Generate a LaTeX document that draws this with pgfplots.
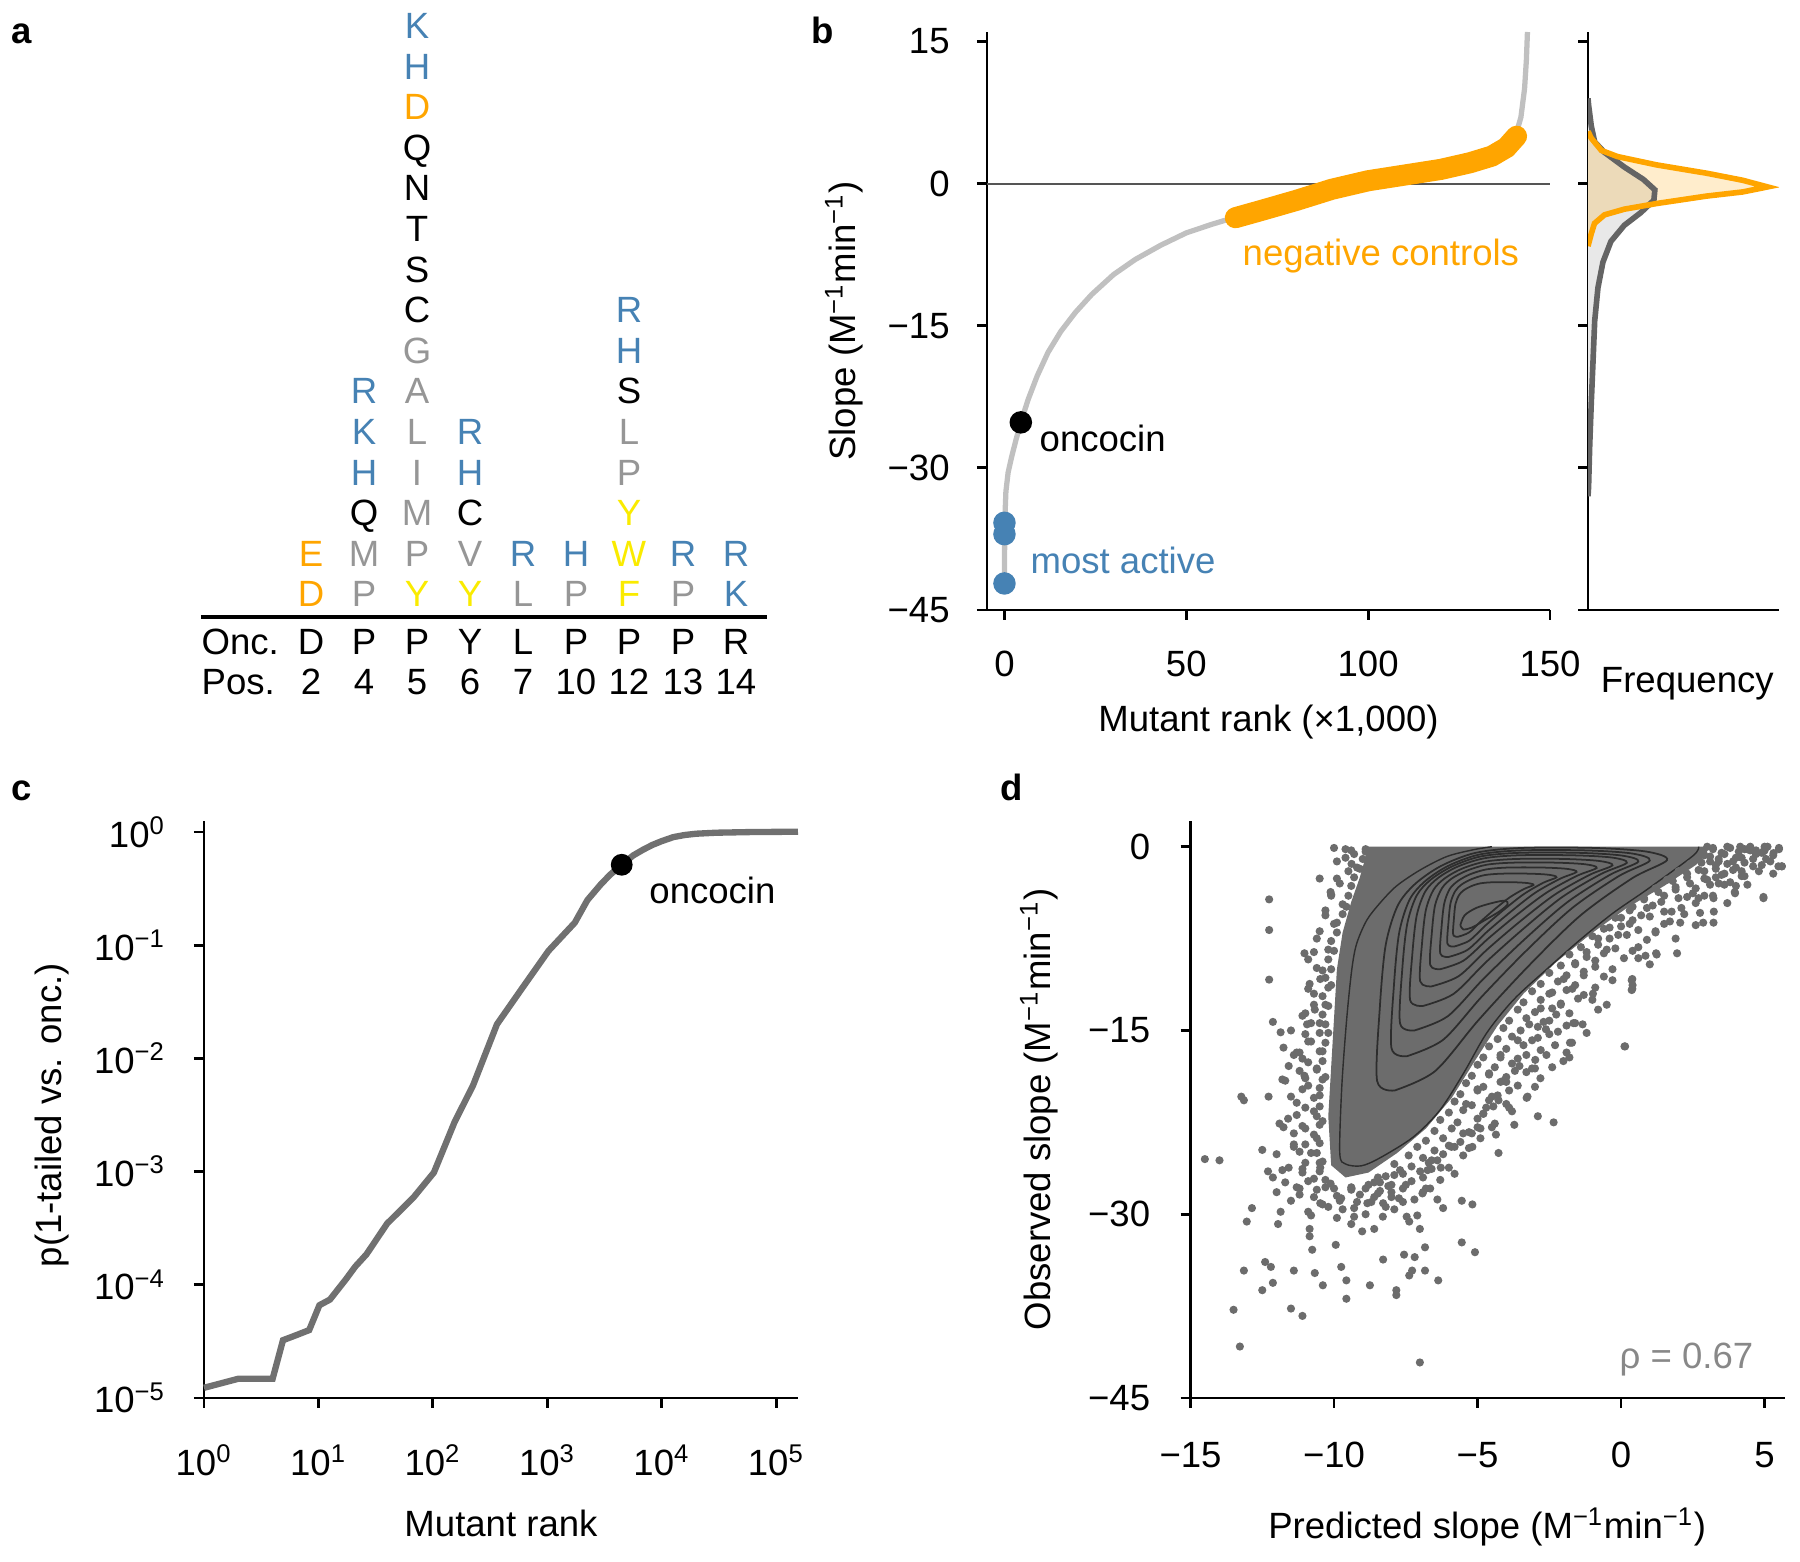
\documentclass[border=0pt]{standalone}
\usepackage{fontspec}
\setmainfont{Liberation Sans}
\usepackage{pgfplots}
\pgfplotsset{compat=1.18}
\definecolor{sblue}{RGB}{70,130,180}
\definecolor{aorange}{RGB}{255,165,0}
\definecolor{ayellow}{RGB}{250,235,0}
\definecolor{agray}{RGB}{150,150,150}
\definecolor{curvegray}{RGB}{192,192,192}
\definecolor{dgray}{RGB}{108,108,108}
\definecolor{cgray}{RGB}{112,112,112}
\definecolor{hgray}{RGB}{100,100,100}
\definecolor{zline}{RGB}{85,85,85}
\definecolor{contourc}{RGB}{45,45,45}
\definecolor{rhogray}{RGB}{136,136,136}
\pgfplotsset{
  panel/.style={
    scale only axis, anchor=south west,
    axis lines=left, axis line style={-, line width=0.8pt, black},
    every outer x axis line/.append style={-},
    every outer y axis line/.append style={-},
    tick align=outside, major tick length=0.1cm,
    every tick/.style={black, line width=0.8pt},
    xtick pos=bottom, ytick pos=left,
  }
}
\newcommand{\aL}[4]{\node[anchor=base, inner sep=0, text=#3] at (axis cs:#1,#2) {#4};}
\begin{document}
\fontsize{10.4}{12.5}\selectfont
\begin{tikzpicture}
\path[use as bounding box] (0,0) rectangle (18,15.62);
% panel letters
\node[anchor=base west, inner sep=0, font=\bfseries] at (0.103,15.184) {a};
\node[anchor=base west, inner sep=0, font=\bfseries] at (8.105,15.184) {b};
\node[anchor=base west, inner sep=0, font=\bfseries] at (0.103,7.61) {c};
\node[anchor=base west, inner sep=0, font=\bfseries] at (10.0,7.61) {d};

% ---------------- panel a ----------------
\begin{axis}[at={(0cm,8.42cm)}, anchor=south west, scale only axis,
  width=8cm, height=7.2cm, xmin=0, xmax=800, ymin=842, ymax=1562,
  hide axis, clip=false]
\addplot[black, line width=1.0pt] coordinates {(201,945) (767,945)};
\node[anchor=base west, inner sep=0] at (axis cs:201,907) {Onc.};
\node[anchor=base west, inner sep=0] at (axis cs:201,867) {Pos.};
\aL{311}{907}{black}{D}\aL{364}{907}{black}{P}\aL{417}{907}{black}{P}
\aL{470}{907}{black}{Y}\aL{523}{907}{black}{L}\aL{576}{907}{black}{P}
\aL{629}{907}{black}{P}\aL{683}{907}{black}{P}\aL{736}{907}{black}{R}
\aL{311}{867}{black}{2}\aL{364}{867}{black}{4}\aL{417}{867}{black}{5}
\aL{470}{867}{black}{6}\aL{523}{867}{black}{7}\aL{576}{867}{black}{10}
\aL{629}{867}{black}{12}\aL{683}{867}{black}{13}\aL{736}{867}{black}{14}
% pos 2
\aL{311}{955}{aorange}{D}\aL{311}{995.6}{aorange}{E}
% pos 4
\aL{364}{955}{agray}{P}\aL{364}{995.6}{agray}{M}\aL{364}{1036.2}{black}{Q}
\aL{364}{1076.8}{sblue}{H}\aL{364}{1117.4}{sblue}{K}\aL{364}{1158}{sblue}{R}
% pos 5
\aL{417}{955}{ayellow}{Y}\aL{417}{995.6}{agray}{P}\aL{417}{1036.2}{agray}{M}
\aL{417}{1076.8}{agray}{I}\aL{417}{1117.4}{agray}{L}\aL{417}{1158}{agray}{A}
\aL{417}{1198.6}{agray}{G}\aL{417}{1239.2}{black}{C}\aL{417}{1279.8}{black}{S}
\aL{417}{1320.4}{black}{T}\aL{417}{1361}{black}{N}\aL{417}{1401.6}{black}{Q}
\aL{417}{1442.2}{aorange}{D}\aL{417}{1482.8}{sblue}{H}\aL{417}{1523.4}{sblue}{K}
% pos 6
\aL{470}{955}{ayellow}{Y}\aL{470}{995.6}{agray}{V}\aL{470}{1036.2}{black}{C}
\aL{470}{1076.8}{sblue}{H}\aL{470}{1117.4}{sblue}{R}
% pos 7
\aL{523}{955}{agray}{L}\aL{523}{995.6}{sblue}{R}
% pos 10
\aL{576}{955}{agray}{P}\aL{576}{995.6}{sblue}{H}
% pos 12
\aL{629}{955}{ayellow}{F}\aL{629}{995.6}{ayellow}{W}\aL{629}{1036.2}{ayellow}{Y}
\aL{629}{1076.8}{agray}{P}\aL{629}{1117.4}{agray}{L}\aL{629}{1158}{black}{S}
\aL{629}{1198.6}{sblue}{H}\aL{629}{1239.2}{sblue}{R}
% pos 13
\aL{683}{955}{agray}{P}\aL{683}{995.6}{sblue}{R}
% pos 14
\aL{736}{955}{sblue}{K}\aL{736}{995.6}{sblue}{R}
\end{axis}

% ---------------- panel b (main) ----------------
\begin{axis}[panel, at={(9.87cm,9.52cm)}, width=5.63cm, height=5.78cm,
  xmin=-4.8, xmax=150, ymin=-45, ymax=16,
  xtick={0,50,100,150}, xticklabels={0,50,100,150},
  ytick={-45,-30,-15,0,15}, yticklabels={−45,−30,−15,0,15},
  xticklabel shift=0.18cm, yticklabel shift=0.145cm,
  xlabel={Mutant rank (×1,000)},
  ylabel={Slope (M\textsuperscript{−1}min\textsuperscript{−1})},
  xlabel style={at={(axis description cs:0.5,-0.194)}, anchor=center},
  ylabel style={at={(axis description cs:-0.254,0.5)}, anchor=center},
  clip=false]
\addplot[zline, line width=0.6pt] coordinates {(-4.8,0) (150,0)};
\addplot[curvegray, line width=1.5pt] coordinates {
(0,-42.5) (0.05,-38) (0.15,-35) (0.4,-32.5) (1.0,-30.5) (2.0,-28.8) (3.2,-27)
(4.5,-25.2) (6.5,-22.8) (9,-20.3) (12,-17.8) (15.5,-15.6) (19.5,-13.6) (24,-11.7)
(30,-9.6) (36,-8.0) (43,-6.5) (50,-5.2) (57,-4.3) (63,-3.6) (70,-2.9) (80,-1.8)
(90,-0.6) (100,0.3) (110,0.9) (120,1.5) (128,2.2) (134,2.9) (138,3.8) (140.5,5.0)
(142,7.0) (143,10) (143.5,13) (143.8,16)};
\addplot[aorange, line width=6pt, line cap=round] coordinates {
(63.5,-3.6) (70,-2.9) (80,-1.8) (90,-0.6) (100,0.3) (110,0.9) (120,1.5) (128,2.2)
(134,2.9) (138,3.8) (140.8,5.0)};
\addplot[only marks, mark=*, mark size=3pt, sblue] coordinates {(0,-35.8) (0,-37.0) (0,-42.2)};
\addplot[only marks, mark=*, mark size=3pt, black] coordinates {(4.5,-25.2)};
\node[anchor=west, inner sep=0] at (axis cs:9.5,-26.85) {oncocin};
\node[anchor=center, inner sep=0, text=aorange] at (axis cs:103.5,-7.6) {negative controls};
\node[anchor=west, inner sep=0, text=sblue] at (axis cs:7,-39.8) {most active};
\end{axis}

% ---------------- panel b (histogram) ----------------
\begin{axis}[panel, at={(15.88cm,9.52cm)}, width=1.91cm, height=5.78cm,
  xmin=0, xmax=1, ymin=-45, ymax=16,
  xtick=\empty, ytick={-45,-30,-15,0,15}, yticklabels={,,,,},
  xlabel={Frequency},
  xlabel style={at={(axis description cs:0.52,-0.128)}, anchor=center}]
\addplot[fill=gray!18, draw=none] coordinates {
(0,9) (0.003,8.3) (0.017,6.1) (0.035,4.4) (0.086,3.3) (0.19,1.75) (0.29,0.44)
(0.35,-0.66) (0.345,-1.75) (0.276,-3.07) (0.19,-4.4) (0.12,-6.1) (0.078,-8.3)
(0.052,-11) (0.035,-14.5) (0.026,-18.9) (0.017,-23.2) (0.009,-27.6) (0.003,-32) (0,-33)} -- cycle;
\addplot[fill=aorange, fill opacity=0.2, draw=none] coordinates {
(0,5.5) (0.017,4.8) (0.07,3.5) (0.155,2.85) (0.36,1.97) (0.62,1.1) (0.81,0.35)
(0.94,-0.35) (0.81,-0.88) (0.62,-1.32) (0.36,-2.1) (0.19,-2.7) (0.086,-3.3)
(0.034,-4.2) (0.017,-5.3) (0,-6.6)} -- cycle;
\addplot[hgray, line width=1.6pt] coordinates {
(0,9) (0.003,8.3) (0.017,6.1) (0.035,4.4) (0.086,3.3) (0.19,1.75) (0.29,0.44)
(0.35,-0.66) (0.345,-1.75) (0.276,-3.07) (0.19,-4.4) (0.12,-6.1) (0.078,-8.3)
(0.052,-11) (0.035,-14.5) (0.026,-18.9) (0.017,-23.2) (0.009,-27.6) (0.003,-32) (0,-33)};
\addplot[aorange, line width=1.6pt] coordinates {
(0,5.5) (0.017,4.8) (0.07,3.5) (0.155,2.85) (0.36,1.97) (0.62,1.1) (0.81,0.35)
(0.94,-0.35) (0.81,-0.88) (0.62,-1.32) (0.36,-2.1) (0.19,-2.7) (0.086,-3.3)
(0.034,-4.2) (0.017,-5.3) (0,-6.6)};
\end{axis}

% ---------------- panel c ----------------
\begin{loglogaxis}[panel, at={(2.04cm,1.64cm)}, width=5.94cm, height=5.77cm,
  xmin=1, xmax=1.55e5, ymin=1e-5, ymax=1.25,
  xtick={1,10,100,1000,10000,100000},
  xticklabels={10\textsuperscript{0},10\textsuperscript{1},10\textsuperscript{2},10\textsuperscript{3},10\textsuperscript{4},10\textsuperscript{5}},
  ytick={1e-5,1e-4,1e-3,1e-2,1e-1,1},
  yticklabels={10\textsuperscript{−5},10\textsuperscript{−4},10\textsuperscript{−3},10\textsuperscript{−2},10\textsuperscript{−1},10\textsuperscript{0}},
  xminorticks=false, yminorticks=false,
  xticklabel shift=0.24cm, yticklabel shift=0.155cm,
  xlabel={Mutant rank}, ylabel={p(1-tailed vs. onc.)},
  xlabel style={at={(axis description cs:0.5,-0.2175)}, anchor=center},
  ylabel style={at={(axis description cs:-0.256,0.49)}, anchor=center},
  clip=false]
\addplot[cgray, line width=1.8pt] coordinates {
(1,1.23e-5) (2,1.48e-5) (3.98,1.48e-5) (4.9,3.24e-5) (6,3.5e-5) (8.3,3.98e-5)
(10.2,6.6e-5) (12.6,7.4e-5) (17.4,1.12e-4) (21,1.45e-4) (26.3,1.86e-4) (39.8,3.47e-4)
(67.6,5.9e-4) (102,9.8e-4) (155,2.75e-3) (224,5.75e-3) (363,0.02) (603,0.0417)
(1023,0.089) (1738,0.158) (2239,0.25) (2951,0.347) (3548,0.42) (4467,0.513)
(5623,0.62) (6918,0.7) (8318,0.77) (10000,0.83) (12589,0.9) (15849,0.94)
(20000,0.965) (30000,0.985) (60000,0.998) (155000,1.005)};
\addplot[only marks, mark=*, mark size=2.9pt, black] coordinates {(4467,0.513)};
\node[anchor=west, inner sep=0] at (axis cs:7700,0.307) {oncocin};
\end{loglogaxis}

% ---------------- panel d ----------------
\begin{axis}[panel, at={(11.905cm,1.64cm)}, width=5.945cm, height=5.77cm,
  xmin=-15, xmax=5.71, ymin=-45, ymax=2.1,
  xtick={-15,-10,-5,0,5}, xticklabels={−15,−10,−5,0,5},
  ytick={-45,-30,-15,0}, yticklabels={−45,−30,−15,0},
  xticklabel shift=0.21cm, yticklabel shift=0.175cm,
  xlabel={Predicted slope (M\textsuperscript{−1}min\textsuperscript{−1})},
  ylabel={Observed slope (M\textsuperscript{−1}min\textsuperscript{−1})},
  xlabel style={at={(axis description cs:0.499,-0.224)}, anchor=center},
  ylabel style={at={(axis description cs:-0.255,0.5)}, anchor=center}]
\addplot[fill=dgray, draw=none] coordinates {
(-8.8,0) (3.0,0) (3.0,-0.6) (2.6,-1.5) (1.5,-3.2) (0.2,-5.0) (-1.1,-7.2) (-2.3,-9.5)
(-3.4,-12.0) (-4.3,-14.6) (-5.1,-17.5) (-5.9,-20.5) (-6.8,-23.0) (-7.8,-25.0)
(-8.8,-26.6) (-9.6,-27.0) (-10.1,-26.0) (-10.2,-22) (-10.1,-18) (-10.0,-14)
(-9.9,-10) (-9.7,-7) (-9.4,-4.5) (-9.1,-2.5)} -- cycle;
% dense band along the right flank
\addplot[only marks, mark=*, mark size=0.95pt, dgray] coordinates {
(-8.6,-27.4) (-8.0,-27.6) (-7.3,-27.3)
(-8.2,-26.9) (-7.6,-26.7) (-6.9,-27.0)
(-7.9,-25.9) (-7.3,-26.1) (-6.7,-25.8) (-6.0,-26.2)
(-7.4,-25.2) (-6.9,-25.4) (-6.2,-25.1)
(-7.1,-24.5) (-6.5,-24.8) (-5.8,-24.5)
(-6.8,-24.0) (-6.2,-23.8) (-5.6,-24.1) (-4.9,-23.8)
(-6.5,-23.2) (-5.9,-23.0) (-5.3,-23.3)
(-6.3,-22.3) (-5.7,-22.5) (-5.0,-22.2) (-4.4,-22.6)
(-6.0,-21.7) (-5.5,-21.5) (-4.8,-21.8)
(-5.8,-20.8) (-5.2,-21.1) (-4.6,-20.7) (-4.0,-21.0)
(-5.6,-20.2) (-5.0,-19.9) (-4.3,-20.3)
(-5.4,-19.3) (-4.8,-19.6) (-4.2,-19.2) (-3.6,-19.5)
(-5.2,-18.7) (-4.6,-18.5) (-4.0,-18.8)
(-5.0,-17.8) (-4.4,-18.0) (-3.8,-17.7) (-3.1,-18.1)
(-4.8,-17.2) (-4.2,-17.0) (-3.6,-17.3)
(-4.6,-16.3) (-4.0,-16.5) (-3.4,-16.2) (-2.8,-16.6)
(-4.3,-15.7) (-3.8,-15.5) (-3.1,-15.8)
(-4.1,-14.8) (-3.5,-15.0) (-2.9,-14.7) (-2.2,-15.1)
(-3.9,-14.2) (-3.3,-14.0) (-2.7,-14.3)
(-3.6,-13.3) (-3.0,-13.5) (-2.4,-13.2) (-1.8,-13.6)
(-3.4,-12.7) (-2.8,-12.5) (-2.1,-12.8)
(-3.1,-11.8) (-2.5,-12.0) (-1.9,-11.7) (-1.3,-12.1)
(-2.8,-11.2) (-2.2,-11.0) (-1.6,-11.3)
(-2.5,-10.3) (-1.9,-10.5) (-1.3,-10.2) (-0.6,-10.6)
(-2.1,-9.7) (-1.6,-9.5) (-0.9,-9.8)
(-1.8,-8.8) (-1.2,-9.0) (-0.6,-8.7) (0.1,-9.1)
(-1.4,-8.2) (-0.8,-8.0) (-0.2,-8.3)
(-1.0,-7.3) (-0.4,-7.5) (0.2,-7.2) (0.9,-7.6)
(-0.6,-6.7) (0.0,-6.5) (0.6,-6.8)
(-0.2,-5.8) (0.4,-6.0) (1.0,-5.7) (1.7,-6.1)
(0.3,-5.2) (0.9,-5.0) (1.5,-5.3)
(0.8,-4.3) (1.4,-4.5) (2.0,-4.2) (2.6,-4.6)
(1.3,-3.7) (1.9,-3.5) (2.5,-3.8)
(1.8,-2.8) (2.4,-3.0) (3.0,-2.7) (3.6,-3.1)
(2.3,-2.2) (2.9,-2.0) (3.5,-2.3) (4.2,-2.0)
(2.8,-1.3) (3.3,-1.5) (3.9,-1.2) (4.6,-1.6)
(3.1,-0.8) (3.6,-0.6) (4.2,-0.9) (4.9,-0.5)
(3.2,-0.1) (3.7,0.0) (4.3,-0.2) (5.0,0.0) (5.5,-0.1)
(-7.7,-26.4) (-6.4,-25.6) (-5.5,-23.4) (-4.7,-21.3) (-3.9,-19.9) (-3.3,-18.4)
(-2.6,-17.0) (-2.5,-15.3) (-1.6,-14.4) (-1.5,-12.4) (-0.9,-11.5) (-0.3,-10.0)
(0.4,-8.5) (1.2,-6.9) (2.2,-5.5) (2.9,-4.0) (3.3,-2.5) (4.0,-1.7) (4.7,-0.3)
(-6.6,-26.3) (-5.3,-24.6) (-4.5,-22.9) (-3.8,-21.6) (-2.4,-18.0) (-1.9,-16.8)
(-1.2,-15.2) (-0.5,-12.9) (0.4,-11.3) (1.0,-9.6) (1.9,-7.5) (2.6,-6.4)
(3.7,-4.6) (4.4,-3.1) (5.3,-2.2)};
% dense band along the left side and bottom
\addplot[only marks, mark=*, mark size=0.95pt, dgray] coordinates {
(-10.0,-27.9) (-10.6,-28.0) (-11.3,-27.8)
(-10.3,-27.2) (-10.9,-27.3)
(-10.5,-26.5) (-11.1,-26.6) (-11.8,-26.4)
(-10.4,-25.7) (-11.0,-25.8)
(-10.6,-25.0) (-11.2,-24.9) (-12.0,-25.1)
(-10.5,-24.2) (-11.0,-24.3)
(-10.7,-23.5) (-11.4,-23.4)
(-10.5,-22.7) (-11.1,-22.8) (-11.9,-22.6)
(-10.6,-22.0) (-11.3,-21.9)
(-10.5,-21.2) (-11.0,-21.3)
(-10.7,-20.5) (-11.5,-20.4)
(-10.5,-19.7) (-11.1,-19.8)
(-10.4,-19.0) (-11.0,-18.9) (-11.7,-19.1)
(-10.6,-18.2) (-11.2,-18.3)
(-10.4,-17.5) (-10.9,-17.6)
(-10.5,-16.7) (-11.3,-16.8)
(-10.3,-16.0) (-10.9,-15.9)
(-10.5,-15.2) (-11.0,-15.3)
(-10.3,-14.5) (-10.8,-14.4)
(-10.4,-13.7) (-11.1,-13.8)
(-10.2,-13.0) (-10.7,-12.9)
(-10.4,-12.2) (-10.2,-11.5) (-10.9,-11.6)
(-10.3,-10.7) (-10.1,-10.0) (-10.6,-9.9)
(-10.2,-9.2) (-10.0,-8.5) (-10.7,-8.6)
(-10.1,-7.7) (-9.9,-7.0) (-10.5,-6.9)
(-9.9,-6.2) (-9.7,-5.5) (-10.3,-5.6)
(-9.7,-4.7) (-9.5,-4.0) (-10.1,-3.9)
(-9.4,-3.2) (-9.3,-2.5) (-9.9,-2.6)
(-9.2,-1.7) (-9.0,-1.0) (-9.6,-0.9)
(-8.9,-0.2) (-9.4,-0.3) (-10.0,-0.1)
(-9.4,-27.8) (-8.8,-27.6) (-9.1,-28.4) (-8.4,-28.1) (-9.8,-28.9) (-8.7,-29.0)
(-8.0,-28.6) (-7.6,-27.9) (-10.2,-29.4) (-9.3,-29.5) (-7.9,-29.6) (-7.2,-28.8)
(-10.7,-28.6) (-10.9,-29.8) (-9.9,-30.3) (-8.3,-30.2) (-6.8,-27.9) (-6.4,-28.8)
(-11.5,-28.9) (-12.0,-28.2) (-11.7,-27.4) (-12.3,-26.5)};
% scattered points
\addplot[only marks, mark=*, mark size=0.95pt, dgray] coordinates {
(-10.3,-5.2) (-10.0,-6.3) (-10.6,-7.5) (-10.2,-8.4) (-10.9,-9.2) (-10.4,-10.1)
(-10.1,-11.3) (-10.7,-12.0) (-10.3,-12.9) (-11.0,-13.6) (-10.5,-14.4) (-10.2,-15.2)
(-10.8,-15.9) (-10.4,-16.7) (-11.1,-17.3) (-10.6,-18.1) (-10.3,-18.8) (-10.9,-19.5)
(-10.5,-20.3) (-11.3,-20.9) (-10.7,-21.6) (-10.4,-22.4) (-11.0,-23.0) (-10.6,-23.8)
(-11.4,-24.3) (-10.8,-25.0) (-10.5,-25.8) (-11.1,-26.3) (-10.7,-27.1) (-10.3,-27.8)
(-11.6,-22.2) (-11.8,-19.0) (-11.5,-15.0) (-10.1,-4.0) (-9.8,-3.0) (-9.5,-2.0)
(-9.9,-1.2) (-9.3,-0.6) (-10.5,-2.6) (-9.6,-0.2)
(-9.9,-28.5) (-9.4,-28.0) (-8.9,-27.9) (-8.4,-27.4) (-7.9,-26.8) (-9.2,-29.0)
(-8.6,-28.6) (-8.0,-28.2) (-7.5,-27.6) (-7.0,-26.5) (-6.6,-25.6) (-10.4,-29.2)
(-9.7,-29.6) (-8.9,-30.0) (-8.2,-29.4) (-7.6,-29.0) (-6.9,-28.2) (-6.3,-27.2)
(-11.2,-28.4) (-10.8,-30.1) (-9.4,-30.8) (-8.6,-31.2) (-7.1,-30.1) (-6.2,-29.5)
(-5.8,-26.7) (-5.5,-25.2) (-6.0,-24.4) (-5.2,-23.4) (-4.8,-21.8) (-4.5,-20.4)
(-4.0,-19.2) (-3.7,-18.3) (-4.2,-17.2) (-3.3,-17.0) (-3.6,-15.8) (-2.9,-15.6)
(-3.2,-14.5) (-2.5,-14.2) (-2.8,-13.2) (-2.1,-12.9) (-2.4,-11.9) (-1.7,-11.6)
(-2.0,-10.8) (-1.3,-10.5) (-1.6,-9.6) (-0.9,-9.3) (-1.2,-8.6) (-0.5,-8.4)
(-0.8,-7.5) (-0.1,-7.2) (-0.4,-6.6) (0.3,-6.3) (0.0,-5.8) (0.7,-5.6) (0.4,-4.9)
(1.1,-4.8) (0.8,-4.2) (1.5,-4.0) (1.2,-3.4) (1.9,-3.3) (1.6,-2.7) (2.3,-2.5)
(2.0,-2.0) (2.7,-1.9) (2.4,-1.4) (3.1,-1.2) (2.9,-0.7) (-5.0,-19.8) (-4.6,-18.6)
(-5.4,-21.0) (-1.0,-12.5) (-0.3,-10.9) (0.6,-8.2) (1.5,-6.3) (2.1,-5.0)
(-1.9,-14.6) (-2.3,-16.2) (-4.9,-23.0) (-3.9,-21.3) (-3.0,-19.6)
(3.2,-0.2) (3.5,-0.5) (3.8,-0.1) (4.1,-0.4) (4.4,-0.2) (4.7,-0.6) (5.0,-0.3)
(5.3,-0.7) (5.5,-0.2) (3.4,-1.0) (3.7,-1.4) (4.0,-0.9) (4.3,-1.3) (4.6,-1.0)
(4.9,-1.5) (5.2,-1.2) (5.6,-1.6) (3.3,-1.8) (3.6,-2.2) (3.9,-1.9) (4.2,-2.4)
(2.9,-2.6) (3.1,-3.1) (2.6,-3.4) (3.4,-3.0) (4.5,0.0) (5.1,0.0) (3.0,0.0)
(4.8,-2.0) (3.8,-2.9) (2.7,-4.2) (3.2,-4.0) (4.0,-3.2) (4.96,-4.1) (3.96,-3.7)
(3.23,-5.3) (2.86,-6.2) (1.95,-8.7) (1.22,-8.7) (0.85,-8.9)
(4.15,0.0) (4.96,-0.38) (5.31,-0.52) (5.48,-1.6) (4.96,-4.2) (3.97,-3.8)
(3.22,-4.2) (3.22,-6.2) (2.75,-5.4) (2.06,-6.2) (1.24,-8.8) (0.6,-9.1)
(0.37,-10.9) (0.37,-11.7) (0.14,-16.3) (-2.01,-17.5) (-1.78,-16.0) (-1.66,-14.4)
(-3.0,-18.1) (-3.29,-20.5) (-4.27,-20.7)
(-9.39,-1.4) (-10.12,-3.7) (-9.57,-4.9) (-8.9,-0.4) (-9.1,-1.8)
(-11.03,-8.7) (-10.85,-11.2) (-10.48,-10.8) (-10.67,-13.3) (-12.26,-4.3)
(-12.26,-6.8) (-12.26,-10.85) (-12.13,-14.3) (-11.86,-15.15) (-11.76,-16.4)
(-12.28,-20.4) (-13.23,-20.4) (-13.14,-20.7) (-14.5,-25.5) (-13.99,-25.6)
(-12.5,-24.75) (-11.58,-17.9) (-11.4,-17.0) (-11.2,-16.8) (-11.03,-18.7)
(-10.94,-14.5) (-11.76,-22.9) (-11.4,-24.5) (-11.58,-26.2) (-12.13,-27.0)
(-11.2,-27.9) (-10.48,-26.2) (-10.12,-27.5) (-9.75,-28.7) (-10.48,-29.1)
(-9.39,-27.9) (-8.84,-29.1) (-8.47,-28.3) (-8.11,-27.7) (-8.47,-27.0)
(-12.86,-29.5) (-13.04,-30.6) (-11.86,-29.8) (-11.95,-30.8) (-13.14,-34.6)
(-12.4,-33.9) (-12.2,-34.3) (-12.5,-36.2) (-12.13,-35.6) (-11.4,-34.6)
(-11.5,-37.7) (-11.1,-38.3) (-13.5,-37.8) (-13.28,-40.8) (-10.85,-31.2)
(-10.85,-31.8) (-10.76,-32.9) (-10.67,-34.8) (-10.39,-35.8) (-9.94,-32.5)
(-9.75,-34.3) (-9.57,-35.4) (-9.57,-36.9) (-8.75,-35.8) (-7.83,-36.2)
(-7.83,-36.6) (-7.28,-34.6) (-7.38,-35.0) (-6.83,-34.6) (-6.37,-35.4)
(-8.29,-33.7) (-7.56,-33.3) (-7.19,-33.5) (-6.83,-32.7) (-9.02,-31.4)
(-9.3,-30.2) (-8.29,-29.1) (-7.74,-28.7) (-7.47,-30.2) (-7.38,-30.6)
(-7.01,-31.2) (-6.92,-28.3) (-6.74,-26.4) (-5.55,-32.3) (-5.09,-33.1)
(-5.55,-28.9) (-5.18,-29.2) (-7.01,-42.1) (-4.27,-25.0) (-3.72,-22.7)
(-2.9,-22.0) (-2.35,-22.5) (-4.36,-23.5) (-3.26,-20.4) (-2.81,-18.9)
(-1.8,-17.2) (-1.71,-16.0) (0.12,-16.3) (0.39,-10.8) (0.39,-11.6) (-0.98,-12.0)
(-6.28,-26.2) (-6.65,-27.9) (-5.91,-24.5) (-5.18,-24.5) (-5.0,-22.9)
(-4.45,-21.2) (-4.09,-19.1) (-3.54,-17.9) (-2.99,-17.4) (-2.62,-14.9)
(-2.26,-13.7) (-1.34,-14.5) (-0.8,-13.3) (1.2,-7.0) (1.76,-5.3) (2.3,-4.1)
(3.4,-1.2) (4.3,-2.4) (4.5,-0.3) (5.6,-1.6) (5.05,-1.0)};
% contours
\addplot[contourc, line width=0.4pt, smooth, tension=0.5] coordinates {
(2.7,0) (2.5,-0.75) (0.9,-3.5) (-0.27,-5.4) (-1.43,-7.6) (-2.59,-10.0) (-3.75,-12.5)
(-4.68,-15.2) (-5.49,-18.5) (-6.31,-21.5) (-7.24,-23.7) (-8.4,-25.4) (-9.05,-26.05)
(-9.6,-25.9) (-9.8,-25.0) (-9.73,-19.6) (-9.56,-14.1) (-9.38,-10.0) (-9.21,-7.9)
(-8.86,-6.0) (-8.4,-4.6) (-7.82,-3.2) (-7.0,-1.9) (-6.07,-0.8) (-5.15,-0.25) (-4.5,0)};
\addplot[contourc, line width=0.5pt, smooth, tension=0.5] coordinates {
(-7.89,-19.9) (-8.5,-19.11) (-8.4,-12.97) (-8.2,-8.02) (-7.79,-4.85) (-7.19,-3.07)
(-6.28,-1.58) (-5.07,-0.5) (-3.45,-0.1) (-0.93,-0.1) (0.89,-0.4) (1.6,-1.09)
(0.39,-2.57) (-1.43,-5.64) (-3.25,-9.8) (-4.97,-14.16) (-6.48,-18.32) (-7.89,-19.9)};
\addplot[contourc, line width=0.5pt, smooth, tension=0.5] coordinates {
(-7.46,-17.1) (-8.0,-16.43) (-7.91,-11.22) (-7.73,-7.02) (-7.37,-4.33) (-6.83,-2.82)
(-6.02,-1.56) (-4.94,-0.64) (-3.5,-0.3) (-1.25,-0.3) (0.37,-0.55) (1.0,-1.14)
(-0.08,-2.4) (-1.7,-5.0) (-3.32,-8.53) (-4.85,-12.23) (-6.2,-15.76) (-7.46,-17.1)};
\addplot[contourc, line width=0.5pt, smooth, tension=0.5] coordinates {
(-7.2,-15.0) (-7.7,-14.42) (-7.62,-9.92) (-7.45,-6.3) (-7.12,-3.98) (-6.62,-2.67)
(-5.87,-1.59) (-4.88,-0.79) (-3.55,-0.5) (-1.48,-0.5) (0.02,-0.72) (0.6,-1.22)
(-0.4,-2.31) (-1.89,-4.56) (-3.38,-7.6) (-4.8,-10.8) (-6.04,-13.84) (-7.2,-15.0)};
\addplot[contourc, line width=0.5pt, smooth, tension=0.5] coordinates {
(-6.9,-13.0) (-7.35,-12.51) (-7.27,-8.7) (-7.12,-5.62) (-6.82,-3.65) (-6.37,-2.54)
(-5.69,-1.62) (-4.78,-0.95) (-3.58,-0.7) (-1.69,-0.7) (-0.33,-0.88) (0.2,-1.31)
(-0.71,-2.24) (-2.07,-4.14) (-3.42,-6.73) (-4.71,-9.43) (-5.84,-12.02) (-6.9,-13.0)};
\addplot[contourc, line width=0.5pt, smooth, tension=0.5] coordinates {
(-6.6,-11.4) (-7.0,-10.98) (-6.93,-7.76) (-6.8,-5.16) (-6.53,-3.5) (-6.13,-2.56)
(-5.53,-1.78) (-4.72,-1.21) (-3.65,-1.0) (-1.98,-1.0) (-0.77,-1.16) (-0.3,-1.52)
(-1.1,-2.3) (-2.31,-3.91) (-3.52,-6.1) (-4.66,-8.38) (-5.66,-10.57) (-6.6,-11.4)};
\addplot[contourc, line width=0.5pt, smooth, tension=0.5] coordinates {
(-6.3,-10.0) (-6.65,-9.65) (-6.59,-6.95) (-6.48,-4.78) (-6.24,-3.39) (-5.9,-2.6)
(-5.37,-1.95) (-4.68,-1.47) (-3.75,-1.3) (-2.3,-1.3) (-1.26,-1.43) (-0.85,-1.73)
(-1.55,-2.39) (-2.59,-3.74) (-3.63,-5.56) (-4.62,-7.48) (-5.49,-9.3) (-6.3,-10.0)};
\addplot[contourc, line width=0.5pt, smooth, tension=0.5] coordinates {
(-6.01,-9.0) (-6.3,-8.71) (-6.25,-6.44) (-6.16,-4.62) (-5.97,-3.45) (-5.68,-2.79)
(-5.26,-2.25) (-4.69,-1.85) (-3.93,-1.7) (-2.74,-1.7) (-1.88,-1.81) (-1.55,-2.06)
(-2.12,-2.61) (-2.98,-3.74) (-3.83,-5.28) (-4.64,-6.88) (-5.35,-8.42) (-6.01,-9.0)};
\addplot[contourc, line width=0.5pt, smooth, tension=0.5] coordinates {
(-5.82,-8.15) (-6.05,-7.91) (-6.01,-6.07) (-5.94,-4.58) (-5.78,-3.63) (-5.56,-3.09)
(-5.21,-2.65) (-4.76,-2.32) (-4.15,-2.2) (-3.2,-2.2) (-2.52,-2.29) (-2.25,-2.5)
(-2.71,-2.94) (-3.39,-3.87) (-4.07,-5.12) (-4.72,-6.42) (-5.29,-7.67) (-5.82,-8.15)};
\addplot[contourc, line width=0.5pt, smooth, tension=0.5] coordinates {
(-5.68,-7.35) (-5.85,-7.17) (-5.82,-5.79) (-5.77,-4.68) (-5.65,-3.97) (-5.49,-3.57)
(-5.23,-3.23) (-4.9,-2.99) (-4.45,-2.9) (-3.75,-2.9) (-3.25,-2.97) (-3.05,-3.12)
(-3.39,-3.46) (-3.89,-4.15) (-4.39,-5.08) (-4.87,-6.06) (-5.29,-6.99) (-5.68,-7.35)};
\addplot[contourc, line width=0.5pt, smooth, tension=0.5] coordinates {
(-5.6,-6.4) (-5.45,-5.6) (-5.05,-5.0) (-4.5,-4.6) (-4.05,-4.4) (-3.95,-4.7)
(-4.25,-5.3) (-4.75,-6.0) (-5.2,-6.6) (-5.5,-6.75) (-5.6,-6.4)};
\node[anchor=east, inner sep=0, text=rhogray] at (axis cs:4.63,-41.9) {ρ = 0.67};
\end{axis}
\end{tikzpicture}
\end{document}
